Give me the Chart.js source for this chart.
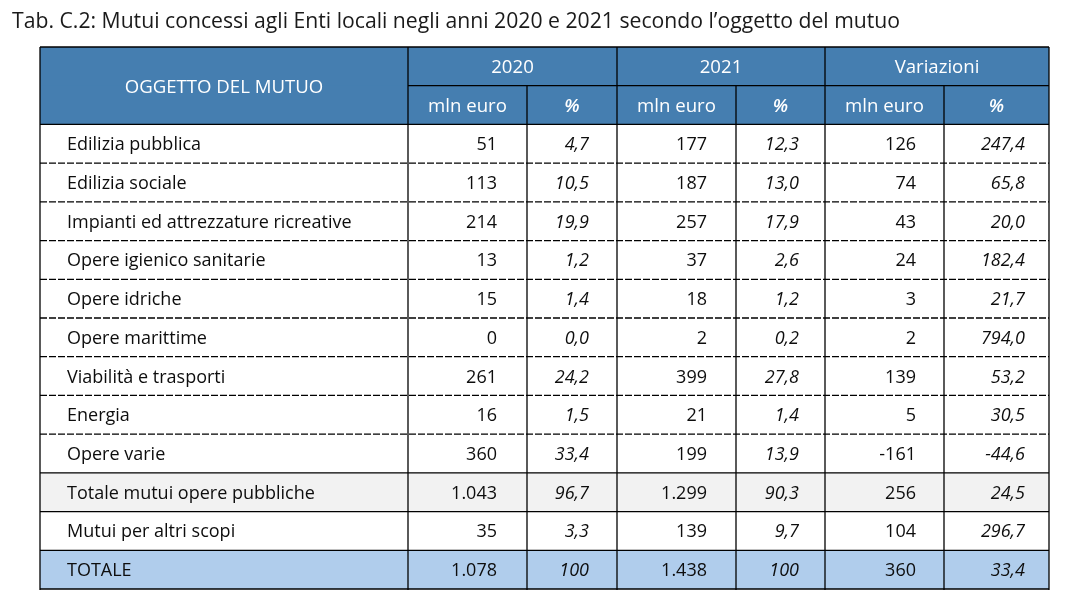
<!DOCTYPE html>
<html>
<head>
<meta charset="utf-8">
<script src="https://cdn.jsdelivr.net/npm/chart.js@4.4.1/dist/chart.umd.min.js"></script>
<style>
html,body{margin:0;padding:0;background:#ffffff;}
canvas{display:block;}
</style>
</head>
<body>
<canvas id="c" width="1076" height="616"></canvas>
<script>
// ---------- DATA ----------
const TITLE = "Tab. C.2: Mutui concessi agli Enti locali negli anni 2020 e 2021 secondo l\u2019oggetto del mutuo";
const headerGroups = ["OGGETTO DEL MUTUO", "2020", "2021", "Variazioni"];
const headerSub = ["mln euro", "%", "mln euro", "%", "mln euro", "%"];
const categories = [
  "Edilizia pubblica",
  "Edilizia sociale",
  "Impianti ed attrezzature ricreative",
  "Opere igienico sanitarie",
  "Opere idriche",
  "Opere marittime",
  "Viabilità e trasporti",
  "Energia",
  "Opere varie",
  "Totale mutui opere pubbliche",
  "Mutui per altri scopi",
  "TOTALE"
];
const mln2020 = [51, 113, 214, 13, 15, 0, 261, 16, 360, 1043, 35, 1078];
const pct2020 = [4.7, 10.5, 19.9, 1.2, 1.4, 0.0, 24.2, 1.5, 33.4, 96.7, 3.3, 100];
const mln2021 = [177, 187, 257, 37, 18, 2, 399, 21, 199, 1299, 139, 1438];
const pct2021 = [12.3, 13.0, 17.9, 2.6, 1.2, 0.2, 27.8, 1.4, 13.9, 90.3, 9.7, 100];
const mlnVar = [126, 74, 43, 24, 3, 2, 139, 5, -161, 256, 104, 360];
const pctVar = [247.4, 65.8, 20.0, 182.4, 21.7, 794.0, 53.2, 30.5, -44.6, 24.5, 296.7, 33.4];

// ---------- LAYOUT / STYLE ----------
const ROW_KIND = ["n","n","n","n","n","n","n","n","n","sub","n","tot"];
const COL_WIDTHS = [368, 119, 90, 119, 89, 119, 105];   // table units
const COL_PAD_R = [0, 30, 28, 29, 26, 28, 24];
const LABEL_PAD_L = 27;
const HEAD_BG = "#457eb0";
const SUB_BG = "#f2f2f2";
const TOT_BG = "#b0cdec";
const TEXT = "#0d0d0d";
const FONT_FAMILY = '"Open Sans", "Noto Sans", sans-serif';
const BODY_SIZE = 18;
const HEAD_SIZE = 18.6;
const TITLE_SIZE = 21.2;

const edges = [0];
COL_WIDTHS.forEach(w => edges.push(edges[edges.length - 1] + w));
const TABLE_W = edges[edges.length - 1];

const rowKeys = ["head1", "head2"].concat(categories);
const rowFill = rowKeys.map((k, i) => {
  if (i < 2) return HEAD_BG;
  const kind = ROW_KIND[i - 2];
  return kind === "sub" ? SUB_BG : kind === "tot" ? TOT_BG : "#ffffff";
});

function fmtInt(v) {
  const s = Math.abs(v).toString().replace(/\B(?=(\d{3})+(?!\d))/g, ".");
  return (v < 0 ? "-" : "") + s;
}
function fmtPct(v) {
  if (v === 100) return "100";
  return v.toFixed(1).replace(".", ",");
}
const columnsData = [
  { values: mln2020, fmt: fmtInt, italic: false },
  { values: pct2020, fmt: fmtPct, italic: true },
  { values: mln2021, fmt: fmtInt, italic: false },
  { values: pct2021, fmt: fmtPct, italic: true },
  { values: mlnVar, fmt: fmtInt, italic: false },
  { values: pctVar, fmt: fmtPct, italic: true }
];

const tablePlugin = {
  id: "tableDraw",
  afterDatasetsDraw(chart) {
    const { ctx, chartArea: a, scales: { x, y } } = chart;
    const X = i => x.getPixelForValue(edges[i]);
    const half = (y.getPixelForValue(1) - y.getPixelForValue(0)) / 2;
    const rTop = i => y.getPixelForValue(i) - half;
    const rBot = i => y.getPixelForValue(i) + half;
    const rMid = i => y.getPixelForValue(i);

    ctx.save();
    // ---- lines ----
    ctx.strokeStyle = "#000000";
    ctx.lineWidth = 1.3;
    const line = (x1, y1, x2, y2, dash) => {
      ctx.beginPath();
      ctx.setLineDash(dash || []);
      ctx.moveTo(x1, y1);
      ctx.lineTo(x2, y2);
      ctx.stroke();
    };
    line(X(0), a.top, X(7), a.top);
    line(X(1), rBot(0), X(7), rBot(0));
    line(X(0), rBot(1), X(7), rBot(1));
    for (let i = 0; i < categories.length; i++) {
      const r = i + 2;
      const next = ROW_KIND[i + 1];
      const dashed = ROW_KIND[i] === "n" && next === "n";
      line(X(0), rBot(r), X(7), rBot(r), dashed ? [7, 2] : null);
    }
    [0, 1, 3, 5, 7].forEach(e => line(X(e), a.top, X(e), a.bottom + 1));
    [2, 4, 6].forEach(e => line(X(e), rTop(1), X(e), a.bottom + 1));
    ctx.setLineDash([]);

    // ---- header text ----
    ctx.fillStyle = "#ffffff";
    ctx.textBaseline = "alphabetic";
    ctx.textAlign = "center";
    ctx.font = `${HEAD_SIZE}px ${FONT_FAMILY}`;
    ctx.fillText(headerGroups[0], (X(0) + X(1)) / 2, (rTop(0) + rBot(1)) / 2 + 7);
    for (let g = 1; g <= 3; g++) {
      const e0 = 1 + (g - 1) * 2;
      ctx.fillText(headerGroups[g], (X(e0) + X(e0 + 2)) / 2, rMid(0) + 7);
    }
    headerSub.forEach((t, j) => {
      ctx.font = (t === "%" ? "italic 600 " : "") + `${HEAD_SIZE}px ${FONT_FAMILY}`;
      ctx.fillText(t, (X(j + 1) + X(j + 2)) / 2, rMid(1) + 7);
    });

    // ---- body text ----
    ctx.fillStyle = TEXT;
    categories.forEach((c, i) => {
      const r = i + 2;
      const by = rMid(r) + 6.5;
      ctx.textAlign = "left";
      ctx.font = `${BODY_SIZE}px ${FONT_FAMILY}`;
      ctx.fillText(c, X(0) + LABEL_PAD_L, by);
      ctx.textAlign = "right";
      columnsData.forEach((col, j) => {
        ctx.font = (col.italic ? "italic " : "") + `${BODY_SIZE}px ${FONT_FAMILY}`;
        ctx.fillText(col.fmt(col.values[i]), X(j + 2) - COL_PAD_R[j + 1], by);
      });
    });

    // ---- title ----
    ctx.textAlign = "left";
    ctx.fillStyle = "#1a1a1a";
    ctx.font = `${TITLE_SIZE}px ${FONT_FAMILY}`;
    ctx.fillText(TITLE, 12, 27.5);
    ctx.restore();
  }
};

new Chart(document.getElementById("c").getContext("2d"), {
  type: "bar",
  data: {
    labels: rowKeys,
    datasets: [{
      data: rowKeys.map(() => [0, TABLE_W]),
      backgroundColor: rowFill,
      borderWidth: 0,
      barPercentage: 1,
      categoryPercentage: 1
    }]
  },
  options: {
    indexAxis: "y",
    responsive: false,
    animation: false,
    events: [],
    layout: { padding: { left: 40, right: 27, top: 47, bottom: 27 } },
    scales: {
      x: { type: "linear", min: 0, max: TABLE_W, display: false },
      y: { type: "category", display: false, offset: true }
    },
    plugins: {
      legend: { display: false },
      tooltip: { enabled: false },
      title: { display: false }
    }
  },
  plugins: [tablePlugin]
});
</script>
</body>
</html>
